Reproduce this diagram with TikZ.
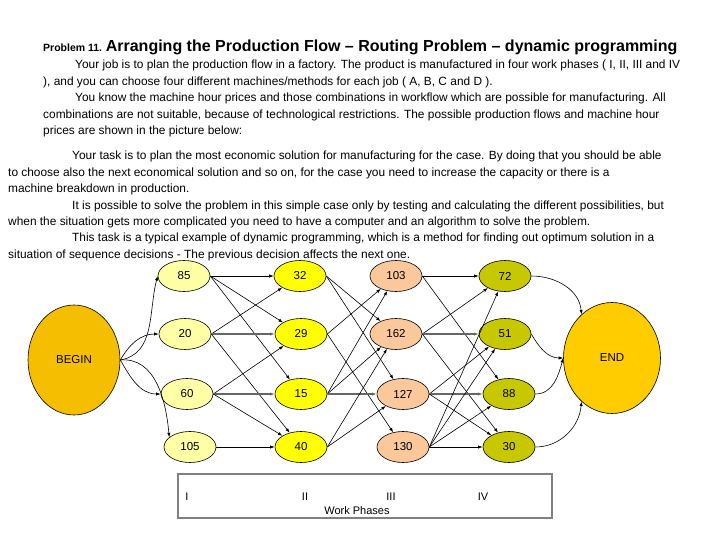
\documentclass[tikz,border=0pt]{standalone}
\usepackage{fontspec}
\setmainfont{Liberation Sans}
\usetikzlibrary{arrows.meta,shapes.geometric}

\definecolor{phaseI}{RGB}{255,255,165}
\definecolor{phaseII}{RGB}{255,255,0}
\definecolor{phaseIII}{RGB}{250,200,155}
\definecolor{phaseIV}{RGB}{200,200,0}
\definecolor{beginfill}{RGB}{245,190,0}
\definecolor{endfill}{RGB}{255,204,0}

\begin{document}
\begin{tikzpicture}[
            x=1pt, y=-1pt,
            >={Latex[length=4.5pt,width=3.2pt]},
            machine/.style={ellipse, draw, line width=0.6pt, minimum width=52pt, minimum height=31pt, inner sep=0pt, font=\fontsize{11.5}{13}\selectfont},
            terminal/.style={ellipse, draw, line width=0.6pt, minimum width=92pt, minimum height=110pt, inner sep=0pt, font=\fontsize{11.5}{13}\selectfont},
            flow/.style={->, line width=0.6pt},
            mainflow/.style={->, line width=1.4pt, draw=black!60},
            bodytext/.style={anchor=north west, align=left, inner sep=0pt, font=\fontsize{11.9}{16.4}\selectfont},
            phaselabel/.style={inner sep=0pt, font=\fontsize{11}{12}\selectfont}
        ]
        \useasboundingbox (0,0) rectangle (720,540);

        % --- Texts ---
        \node[anchor=base west, inner sep=0pt] (title) at (43,52)
            {\bfseries{\fontsize{10.5}{12}\selectfont Problem 11.} {\fontsize{16}{18}\selectfont Arranging the Production Flow -- Routing Problem -- dynamic programming}};
        \node[bodytext] (intro) at (43,60)
            {\hspace*{32pt}Your job is to plan the production flow in a factory. The product is manufactured in four work phases ( I, II, III and IV\\
            ), and you can choose four different machines/methods for each job ( A, B, C and D ).\\
            \hspace*{32pt}You know the machine hour prices and those combinations in workflow which are possible for manufacturing. All\\
            combinations are not suitable, because of technological restrictions. The possible production flows and machine hour\\
            prices are shown in the picture below:};
        \node[bodytext] (task) at (8,151)
            {\hspace*{64pt}Your task is to plan the most economic solution for manufacturing for the case. By doing that you should be able\\
            to choose also the next economical solution and so on, for the case you need to increase the capacity or there is a\\
            machine breakdown in production.\\
            \hspace*{64pt}It is possible to solve the problem in this simple case only by testing and calculating the different possibilities, but\\
            when the situation gets more complicated you need to have a computer and an algorithm to solve the problem.\\
            \hspace*{64pt}This task is a typical example of dynamic programming, which is a method for finding out optimum solution in a\\
            situation of sequence decisions - The previous decision affects the next one.};

        % --- Nodes ---
        \node[terminal, fill=beginfill] (begin) at (74,360) {BEGIN};
        \node[terminal, fill=endfill, minimum width=97pt, minimum height=111pt] (end) at (612,358) {END};

        \node[machine, fill=phaseI] (p85) at (184,276) {85};
        \node[machine, fill=phaseI] (p20) at (185,334) {20};
        \node[machine, fill=phaseI] (p60) at (187,394) {60};
        \node[machine, fill=phaseI] (p105) at (190,447) {105};

        \node[machine, fill=phaseII] (p32) at (300,276) {32};
        \node[machine, fill=phaseII] (p29) at (301,334) {29};
        \node[machine, fill=phaseII] (p15) at (301,394) {15};
        \node[machine, fill=phaseII] (p40) at (301,447) {40};

        \node[machine, fill=phaseIII] (p103) at (396,276) {103};
        \node[machine, fill=phaseIII] (p162) at (396,334) {162};
        \node[machine, fill=phaseIII] (p127) at (403,394) {127};
        \node[machine, fill=phaseIII] (p130) at (403,447) {130};

        \node[machine, fill=phaseIV] (p72) at (505,276) {72};
        \node[machine, fill=phaseIV] (p51) at (505,334) {51};
        \node[machine, fill=phaseIV] (p88) at (509,394) {88};
        \node[machine, fill=phaseIV] (p30) at (509,447) {30};

        % --- Work phase box ---
        \node[draw=black!50, line width=1.5pt, minimum width=374pt, minimum height=44pt, inner sep=0pt] (phasebox) at (365,496) {};
        \node[phaselabel] (lI) at (187,497) {I};
        \node[phaselabel] (lII) at (305,497) {II};
        \node[phaselabel] (lIII) at (391,497) {III};
        \node[phaselabel] (lIV) at (483,497) {IV};
        \node[phaselabel] (work) at (357,511) {Work Phases};

        % --- Begin to phase I ---
        \draw[flow] (begin.east) to[out=10, in=-105] (p85.west);
        \draw[flow] (begin.east) to[out=60, in=180] (p20.west);
        \draw[flow] (begin.east) to[out=-60, in=180] (p60.west);
        \draw[flow] (begin.east) to[out=5, in=95] (p105.155);

        % --- Phase I to phase II ---
        \draw[flow] (p85.east) -- (p32.west);
        \draw[flow] (p85.east) -- (p29);
        \draw[flow] (p85.east) -- (p15);
        \draw[flow] (p20.east) -- (p32);
        \draw[mainflow] (p20.east) -- (p29.west);
        \draw[flow] (p20.east) -- (p40);
        \draw[flow] (p60.east) -- (p29);
        \draw[mainflow] (p60.east) -- (p15.west);
        \draw[flow] (p60.east) -- (p40);
        \draw[flow] (p105.east) -- (p40.west);

        % --- Phase II to phase III ---
        \draw[flow] (p32.east) -- (p162);
        \draw[flow] (p32.east) -- (p127);
        \draw[flow] (p29.east) -- (p103);
        \draw[flow] (p29.east) -- (p130);
        \draw[flow] (p15.east) -- (p103);
        \draw[flow] (p15.east) -- (p162);
        \draw[mainflow] (p15.east) -- (p127.west);
        \draw[flow] (p40.east) -- (p162);
        \draw[flow] (p40.east) -- (p127);

        % --- Phase III to phase IV ---
        \draw[flow] (p103.east) -- (p72.west);
        \draw[flow] (p103.east) -- (p88);
        \draw[flow] (p162.east) -- (p72);
        \draw[mainflow] (p162.east) -- (p51.west);
        \draw[flow] (p162.east) -- (p30);
        \draw[flow] (p127.east) -- (p51);
        \draw[mainflow] (p127.east) -- (p88.west);
        \draw[flow] (p127.east) -- (p30);
        \draw[flow] (p130.east) -- (p72);
        \draw[flow] (p130.east) -- (p51);
        \draw[flow] (p130.east) -- (p88);
        \draw[flow] (p130.east) -- (p30.west);

        % --- Phase IV to end ---
        \draw[flow] (p72.east) to[out=0, in=95] (end.125);
        \draw[flow] (p51.east) to[out=-60, in=180] (end.west);
        \draw[flow] (p88.east) to[out=0, in=-105] (end.west);
        \draw[flow] (p30.east) to[out=0, in=-95] (end.235);
        \end{tikzpicture}
\end{document}
